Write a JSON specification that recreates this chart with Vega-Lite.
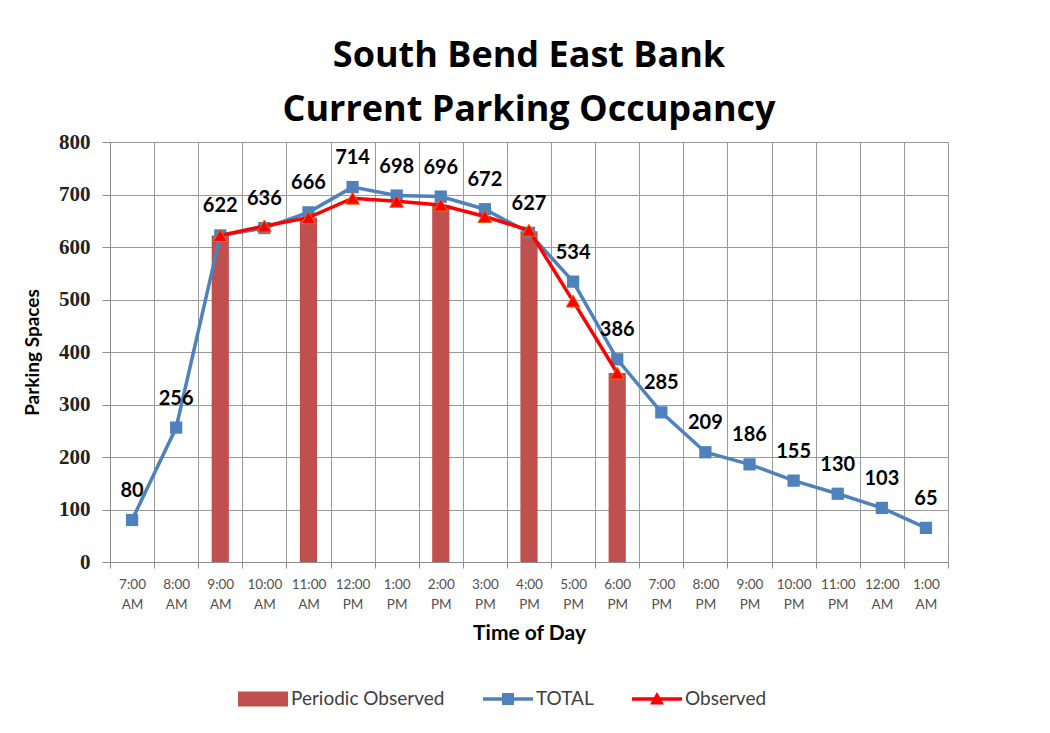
{
  "$schema": "https://vega.github.io/schema/vega-lite/v6.json",
  "width": 838,
  "height": 420,
  "autosize": {"type": "none"},
  "padding": {"left": 110, "top": 142, "right": 102, "bottom": 171},
  "background": "white",
  "config": {
    "font": "Lato",
    "view": {"stroke": "#8c8c8c", "strokeWidth": 1}
  },
  "title": {
    "text": ["South Bend East Bank", "Current Parking Occupancy"],
    "fontSize": 36,
    "fontWeight": "bold",
    "font": "Open Sans",
    "color": "#000000",
    "lineHeight": 54,
    "offset": 2,
    "anchor": "middle"
  },
  "data": {
    "values": [
      {"time": "7:00 AM", "TOTAL": 80, "Observed": null, "Periodic Observed": null},
      {"time": "8:00 AM", "TOTAL": 256, "Observed": null, "Periodic Observed": null},
      {"time": "9:00 AM", "TOTAL": 622, "Observed": 622, "Periodic Observed": 622},
      {"time": "10:00 AM", "TOTAL": 636, "Observed": 640, "Periodic Observed": null},
      {"time": "11:00 AM", "TOTAL": 666, "Observed": 656, "Periodic Observed": 656},
      {"time": "12:00 PM", "TOTAL": 714, "Observed": 693, "Periodic Observed": null},
      {"time": "1:00 PM", "TOTAL": 698, "Observed": 687, "Periodic Observed": null},
      {"time": "2:00 PM", "TOTAL": 696, "Observed": 680, "Periodic Observed": 680},
      {"time": "3:00 PM", "TOTAL": 672, "Observed": 658, "Periodic Observed": null},
      {"time": "4:00 PM", "TOTAL": 627, "Observed": 632, "Periodic Observed": 630},
      {"time": "5:00 PM", "TOTAL": 534, "Observed": 497, "Periodic Observed": null},
      {"time": "6:00 PM", "TOTAL": 386, "Observed": 360, "Periodic Observed": 360},
      {"time": "7:00 PM", "TOTAL": 285, "Observed": null, "Periodic Observed": null},
      {"time": "8:00 PM", "TOTAL": 209, "Observed": null, "Periodic Observed": null},
      {"time": "9:00 PM", "TOTAL": 186, "Observed": null, "Periodic Observed": null},
      {"time": "10:00 PM", "TOTAL": 155, "Observed": null, "Periodic Observed": null},
      {"time": "11:00 PM", "TOTAL": 130, "Observed": null, "Periodic Observed": null},
      {"time": "12:00 AM", "TOTAL": 103, "Observed": null, "Periodic Observed": null},
      {"time": "1:00 AM", "TOTAL": 65, "Observed": null, "Periodic Observed": null}
    ]
  },
  "encoding": {
    "x": {
      "field": "time",
      "type": "nominal",
      "scale": {
        "domain": ["7:00 AM", "8:00 AM", "9:00 AM", "10:00 AM", "11:00 AM", "12:00 PM", "1:00 PM", "2:00 PM", "3:00 PM", "4:00 PM", "5:00 PM", "6:00 PM", "7:00 PM", "8:00 PM", "9:00 PM", "10:00 PM", "11:00 PM", "12:00 AM", "1:00 AM"],
        "paddingInner": 0,
        "paddingOuter": 0
      },
      "axis": {
        "title": "Time of Day",
        "titleFontSize": 21,
        "titleFontWeight": "bold",
        "titleColor": "#000000",
        "titlePadding": 12,
        "labelAngle": 0,
        "labelExpr": "isValid(datum.value) ? split(datum.value, ' ') : ''",
        "labelFontSize": 13.5,
        "labelColor": "#505050",
        "labelLineHeight": 20,
        "labelPadding": 9,
        "labelBaseline": "top",
        "tickBand": "extent",
        "tickSize": 6,
        "tickColor": "#8c8c8c",
        "domainColor": "#8c8c8c",
        "grid": true,
        "gridColor": "#9a9a9a",
        "gridWidth": 1
      }
    }
  },
  "layer": [
    {
      "transform": [{"filter": "isValid(datum['Periodic Observed'])"}],
      "mark": {"type": "bar", "color": "#C0504D", "width": {"band": 0.39}},
      "encoding": {
        "y": {
          "field": "Periodic Observed",
          "type": "quantitative",
          "scale": {"domain": [0, 800], "nice": false},
          "axis": {
            "title": "Parking Spaces",
            "titleFontSize": 19,
            "titleFontWeight": "bold",
            "titleColor": "#000000",
            "titlePadding": 16,
            "values": [0, 100, 200, 300, 400, 500, 600, 700, 800],
            "labelFont": "Liberation Serif",
            "labelFontSize": 21,
            "labelFontWeight": "bold",
            "labelColor": "#222222",
            "labelPadding": 12,
            "tickSize": 8,
            "tickColor": "#8c8c8c",
            "domainColor": "#8c8c8c",
            "grid": true,
            "gridColor": "#9a9a9a"
          }
        }
      }
    },
    {
      "mark": {"type": "line", "color": "#4F81BD", "strokeWidth": 3.5},
      "encoding": {"y": {"field": "TOTAL", "type": "quantitative"}}
    },
    {
      "mark": {"type": "point", "filled": true, "shape": "square", "size": 150, "color": "#4F81BD", "opacity": 1},
      "encoding": {"y": {"field": "TOTAL", "type": "quantitative"}}
    },
    {
      "transform": [{"filter": "isValid(datum.Observed)"}],
      "mark": {"type": "line", "color": "#FF0000", "strokeWidth": 3.5},
      "encoding": {"y": {"field": "Observed", "type": "quantitative"}}
    },
    {
      "transform": [{"filter": "isValid(datum.Observed)"}],
      "mark": {"type": "point", "filled": true, "shape": "triangle-up", "size": 190, "color": "#FF0000", "stroke": "#E46C0A", "strokeWidth": 1, "opacity": 1},
      "encoding": {"y": {"field": "Observed", "type": "quantitative"}}
    },
    {
      "transform": [
        {"fold": ["TOTAL", "Observed"], "as": ["series", "value"]},
        {"filter": "isValid(datum.value)"}
      ],
      "mark": {"type": "point", "filled": true, "size": 0, "opacity": 1},
      "encoding": {
        "y": {"field": "value", "type": "quantitative"},
        "color": {
          "field": "series",
          "type": "nominal",
          "scale": {"domain": ["Periodic Observed", "TOTAL", "Observed"], "range": ["#C0504D", "#4F81BD", "#FF0000"]},
          "legend": {
            "title": null,
            "orient": "none",
            "legendX": 128,
            "legendY": 532,
            "direction": "horizontal",
            "symbolSize": 2500,
            "symbolStrokeWidth": 0,
            "symbolOpacity": 1,
            "labelFontSize": 19,
            "labelColor": "#404040",
            "labelOffset": 3,
            "columnPadding": 38
          }
        },
        "shape": {
          "field": "series",
          "type": "nominal",
          "scale": {
            "domain": ["Periodic Observed", "TOTAL", "Observed"],
            "range": [
              "M-1,-0.3H1V0.3H-1Z",
              "M-1,-0.07H1V0.07H-1Z M-0.24,-0.24H0.24V0.24H-0.24Z",
              "M-1,-0.07H1V0.07H-1Z M0,-0.28L0.28,0.22L-0.28,0.22Z"
            ]
          },
          "legend": {"title": null}
        }
      }
    },
    {
      "mark": {"type": "text", "fontSize": 20, "fontWeight": "bold", "color": "#000000", "dy": -23, "baseline": "alphabetic"},
      "encoding": {
        "y": {"field": "TOTAL", "type": "quantitative"},
        "text": {"field": "TOTAL", "type": "quantitative"}
      }
    }
  ]
}
